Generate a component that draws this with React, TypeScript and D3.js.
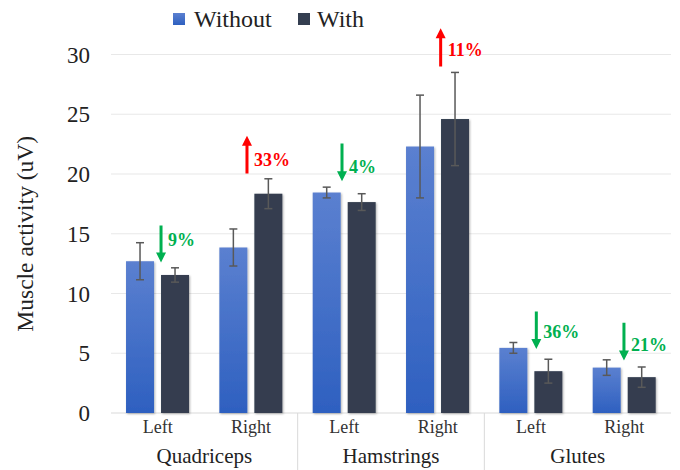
import React from "react";
import * as d3 from "d3";

const groups = ["Quadriceps", "Hamstrings", "Glutes"];
const sides = ["Left", "Right"];
const seriesNames = ["Without", "With"];
const withoutMeans = [12.7, 13.85, 18.45, 22.3, 5.45, 3.8];
const withMeans = [11.55, 18.35, 17.65, 24.6, 3.5, 3.0];
const withoutErr = [1.55, 1.55, 0.45, 4.3, 0.45, 0.65];
const withErr = [0.6, 1.25, 0.7, 3.9, 1.0, 0.85];
const yTicks = [0, 5, 10, 15, 20, 25, 30];

const changeLabels = ["9%", "33%", "4%", "11%", "36%", "21%"];
const changeDirs = ["down", "up", "down", "up", "down", "down"];
const arrowTop = [15.7, 23.2, 22.55, 32.2, 8.5, 7.55];
const arrowBottom = [12.6, 20.05, 19.4, 29.0, 5.35, 4.4];
const labelY = [14.0, 20.7, 20.1, 29.9, 6.25, 5.2];
const arrowPos = [0.536, 0.457, 0.475, 0.532, 0.557, 0.496];

const W = 680;
const H = 470;
const FONT = "Liberation Serif, Times New Roman, Times, serif";

const txt = (size: number, weight: number | string = 400): React.CSSProperties => ({
  fontFamily: FONT,
  fontSize: `${size}px`,
  fontWeight: weight as any,
});

export default function App() {
  const cats = groups.flatMap((g) => sides.map((s) => `${g}|${s}`));
  const x = d3.scaleBand<string>().domain(cats).range([111, 671]).padding(0);
  const step = x.bandwidth();
  const xSub = d3
    .scaleBand<string>()
    .domain(seriesNames)
    .range([step * 0.161, step * 0.836])
    .paddingInner(0.2)
    .paddingOuter(0);
  const y = d3.scaleLinear().domain([0, 30]).range([413, 54.5]);
  const means = [withoutMeans, withMeans];
  const errs = [withoutErr, withErr];
  const fills = ["url(#gradWithout)", "#343e50"];
  const bw = xSub.bandwidth();

  return (
    <svg
      width={W}
      height={H}
      style={{ position: "fixed", left: 0, top: 0, background: "#fff" }}
    >
      <defs>
        <linearGradient id="gradWithout" x1="0" y1="0" x2="0" y2="1">
          <stop offset="0" stopColor="#5b80d0" />
          <stop offset="1" stopColor="#2e60c0" />
        </linearGradient>
        <filter id="shadow" x="-20%" y="-20%" width="140%" height="140%">
          <feDropShadow dx="1" dy="1" stdDeviation="1.2" floodColor="#000" floodOpacity="0.3" />
        </filter>
      </defs>
      <rect width={W} height={H} fill="#fff" />

      {/* gridlines */}
      {yTicks.map((t) => (
        <line
          key={t}
          x1={111}
          x2={671}
          y1={y(t)}
          y2={y(t)}
          stroke={t === 0 ? "#d9d9d9" : "#e8e8e8"}
          strokeWidth={1.2}
        />
      ))}
      {yTicks.map((t) => (
        <text
          key={"l" + t}
          x={90}
          y={y(t)}
          dy="0.35em"
          textAnchor="end"
          style={txt(23)}
          fill="#222"
        >
          {t}
        </text>
      ))}

      {/* group separators */}
      {groups.slice(1).map((g) => {
        const gx = x(`${g}|Left`)!;
        return <line key={g} x1={gx} x2={gx} y1={413} y2={470} stroke="#d9d9d9" strokeWidth={1} />;
      })}

      {/* bars */}
      {cats.map((c, i) =>
        seriesNames.map((s, si) => {
          const v = means[si][i];
          return (
            <rect
              key={c + s}
              x={x(c)! + xSub(s)!}
              y={y(v)}
              width={bw}
              height={y(0) - y(v)}
              fill={fills[si]}
              filter="url(#shadow)"
            />
          );
        })
      )}

      {/* error bars */}
      {cats.map((c, i) =>
        seriesNames.map((s, si) => {
          const v = means[si][i];
          const e = errs[si][i];
          const cx = x(c)! + xSub(s)! + bw / 2;
          return (
            <g key={"e" + c + s} stroke="#595959" strokeWidth={1.5}>
              <line x1={cx} x2={cx} y1={y(v + e)} y2={y(v - e)} />
              <line x1={cx - 4} x2={cx + 4} y1={y(v + e)} y2={y(v + e)} />
              <line x1={cx - 4} x2={cx + 4} y1={y(v - e)} y2={y(v - e)} />
            </g>
          );
        })
      )}

      {/* change annotations */}
      {cats.map((c, i) => {
        const ax = x(c)! + step * arrowPos[i];
        const up = changeDirs[i] === "up";
        const color = up ? "#ff0000" : "#00b050";
        const yt = y(arrowTop[i]);
        const yb = y(arrowBottom[i]);
        const head = 10;
        const hw = 5;
        const shaft = up
          ? `M${ax - 1.5},${yb} L${ax - 1.5},${yt + head} L${ax - hw},${yt + head} L${ax},${yt} L${ax + hw},${yt + head} L${ax + 1.5},${yt + head} L${ax + 1.5},${yb} Z`
          : `M${ax - 1.5},${yt} L${ax - 1.5},${yb - head} L${ax - hw},${yb - head} L${ax},${yb} L${ax + hw},${yb - head} L${ax + 1.5},${yb - head} L${ax + 1.5},${yt} Z`;
        return (
          <g key={"a" + c}>
            <path d={shaft} fill={color} />
            <text x={ax + 7} y={y(labelY[i])} style={txt(18, 700)} fill={color}>
              {changeLabels[i]}
            </text>
          </g>
        );
      })}

      {/* x labels */}
      {cats.map((c) => (
        <text
          key={"x" + c}
          x={x(c)! + step / 2}
          y={433}
          textAnchor="middle"
          style={txt(18)}
          fill="#333"
        >
          {c.split("|")[1]}
        </text>
      ))}
      {groups.map((g) => {
        const gx = x(`${g}|Left`)! + step;
        return (
          <text key={"g" + g} x={gx} y={463} textAnchor="middle" style={txt(21)} fill="#222">
            {g}
          </text>
        );
      })}

      {/* y title */}
      <text
        transform={`translate(33,${(y(0) + y(30)) / 2}) rotate(-90)`}
        textAnchor="middle"
        style={txt(23.5)}
        fill="#222"
      >
        Muscle activity (uV)
      </text>

      {/* legend */}
      <rect x={173} y={13} width={12} height={12} fill="url(#gradWithout)" />
      <text x={194} y={26.5} style={txt(24)} fill="#222">
        Without
      </text>
      <rect x={298} y={13} width={12} height={12} fill="#343e50" />
      <text x={317} y={26.5} style={txt(24)} fill="#222">
        With
      </text>
    </svg>
  );
}
